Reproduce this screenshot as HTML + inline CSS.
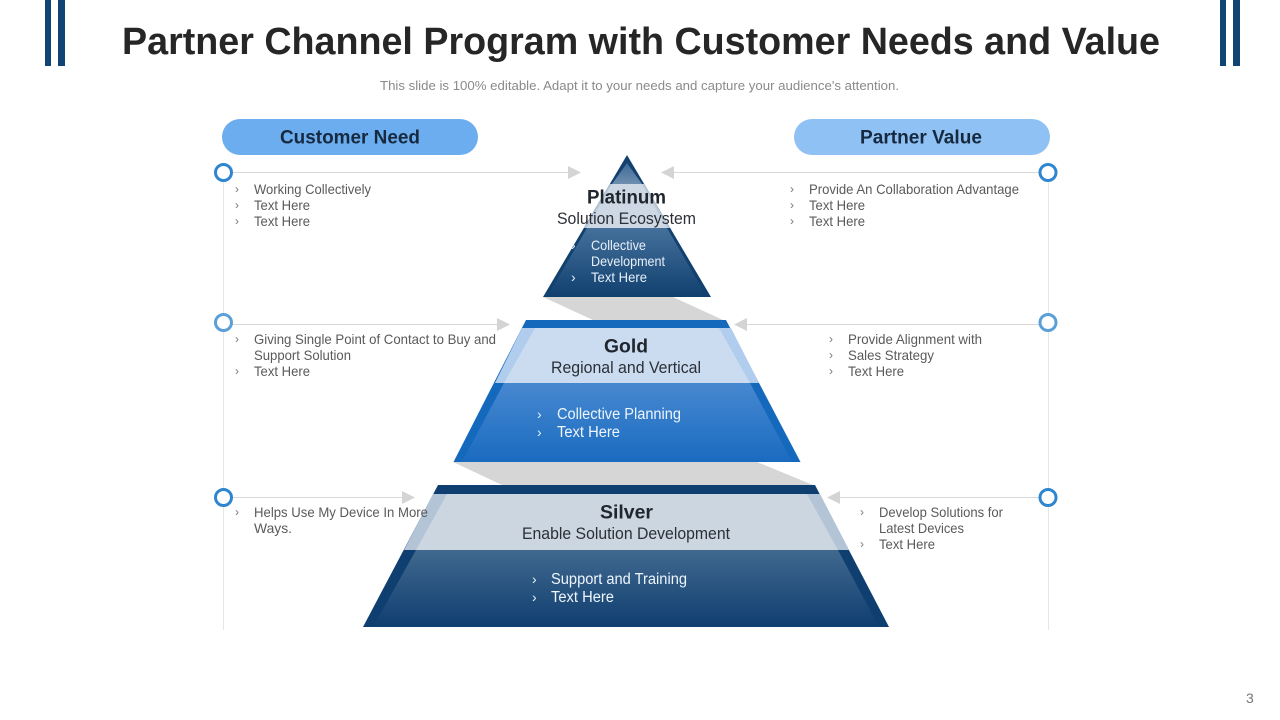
<!DOCTYPE html>
<html lang="en">
<head>
<meta charset="utf-8">
<title>Partner Channel Program with Customer Needs and Value</title>
<style>
html,body{margin:0;padding:0;background:#fff;width:1280px;height:720px;overflow:hidden}
svg{display:block}
text{font-family:"Liberation Sans",sans-serif}
.b{font-size:14px;fill:#5a5a5a}
.c{font-size:12px;fill:#777}
.cw{font-size:14px;fill:#e8f0f8}
.h{font-size:19px;font-weight:bold;fill:#20262e}
.s{font-size:17px;fill:#2b2f36}
.p{font-size:19.5px;font-weight:bold;fill:#16293f}
.l{font-size:15.5px;fill:#eef5fc}
.lc{font-size:14px;fill:#e8f2fb}
</style>
</head>
<body>
<svg width="1280" height="720" viewBox="0 0 1280 720" xmlns="http://www.w3.org/2000/svg">
<defs>
<linearGradient id="gp" x1="0" y1="0" x2="0" y2="1"><stop offset="0" stop-color="#44709b"/><stop offset="1" stop-color="#11406f"/></linearGradient>
<linearGradient id="gt" x1="0" y1="0" x2="0" y2="1"><stop offset="0" stop-color="#3d6a98"/><stop offset="1" stop-color="#6f8eae"/></linearGradient>
<linearGradient id="gg" x1="0" y1="0" x2="0" y2="1"><stop offset="0" stop-color="#4788d0"/><stop offset="1" stop-color="#1a6bc0"/></linearGradient>
<linearGradient id="gs" x1="0" y1="0" x2="0" y2="1"><stop offset="0" stop-color="#41698f"/><stop offset="1" stop-color="#0f3e70"/></linearGradient>
</defs>

<!-- header bars -->
<rect x="45" y="0" width="6" height="66" fill="#0f4474"/>
<rect x="58" y="0" width="7" height="66" fill="#0f4474"/>
<rect x="1220" y="0" width="6" height="66" fill="#0f4474"/>
<rect x="1233" y="0" width="7" height="66" fill="#0f4474"/>

<text x="122" y="54" font-size="38" font-weight="bold" fill="#262626" textLength="1038" lengthAdjust="spacingAndGlyphs">Partner Channel Program with Customer Needs and Value</text>
<text x="380" y="90" font-size="13" fill="#8a8a8a" textLength="519" lengthAdjust="spacingAndGlyphs">This slide is 100% editable. Adapt it to your needs and capture your audience's attention.</text>
<text x="1246" y="703" font-size="14" fill="#777">3</text>

<!-- side verticals -->
<line x1="223.5" y1="172" x2="223.5" y2="630" stroke="#e6e6e6" stroke-width="1"/>
<line x1="1048.5" y1="172" x2="1048.5" y2="630" stroke="#e6e6e6" stroke-width="1"/>

<!-- pills -->
<rect x="222" y="119" width="256" height="36" rx="18" fill="#6cadef"/>
<rect x="794" y="119" width="256" height="36" rx="18" fill="#90c1f4"/>
<text class="p" x="280" y="143.5" textLength="140" lengthAdjust="spacingAndGlyphs">Customer Need</text>
<text class="p" x="860" y="143.5" textLength="122" lengthAdjust="spacingAndGlyphs">Partner Value</text>

<!-- gray connectors between tiers -->
<polygon points="543,297 673,297 723,320 593,320" fill="#d6d6d6"/>
<polygon points="453,462 757,462 813,485 502,485" fill="#d6d6d6"/>

<!-- arrows -->
<g stroke="#d8d8d8" stroke-width="1" fill="none">
<line x1="232" y1="172.5" x2="570" y2="172.5"/>
<line x1="1040" y1="172.5" x2="672" y2="172.5"/>
<line x1="232" y1="324.5" x2="499" y2="324.5"/>
<line x1="1040" y1="324.5" x2="745" y2="324.5"/>
<line x1="232" y1="497.5" x2="404" y2="497.5"/>
<line x1="1040" y1="497.5" x2="838" y2="497.5"/>
</g>
<g fill="#d4d4d4">
<polygon points="568,166 581,172.5 568,179"/>
<polygon points="674,166 661,172.5 674,179"/>
<polygon points="497,318 510,324.5 497,331"/>
<polygon points="747,318 734,324.5 747,331"/>
<polygon points="402,491 415,497.5 402,504"/>
<polygon points="840,491 827,497.5 840,504"/>
</g>

<!-- circles -->
<g fill="#fff" stroke-width="3">
<circle cx="223.5" cy="172.5" r="8" stroke="#2f86d0"/>
<circle cx="223.5" cy="322.5" r="8" stroke="#5b9fd8"/>
<circle cx="223.5" cy="497.5" r="8" stroke="#2f86d0"/>
<circle cx="1048" cy="172.5" r="8" stroke="#2f86d0"/>
<circle cx="1048" cy="322.5" r="8" stroke="#5b9fd8"/>
<circle cx="1048" cy="497.5" r="8" stroke="#2f86d0"/>
</g>

<!-- Platinum -->
<polygon points="627,155 711,297 543,297" fill="#12406f"/>
<polygon points="627,163 642,184 612,184" fill="url(#gt)"/>
<polygon points="610,184 644,184 670,228 584,228" fill="#b9c9d9"/>
<polygon points="612,184 642,184 667,228 587,228" fill="#cdd8e4"/>
<polygon points="587,228 667,228 707,297 547,297" fill="url(#gp)"/>

<!-- Gold -->
<polygon points="526,320 726,320 800.5,462 453.5,462" fill="#1569bd"/>
<polygon points="522,328 731,328 759,383 495,383" fill="#b0cdee"/>
<polygon points="535,328 719,328 750,383 504,383" fill="#cbdcf0"/>
<polygon points="504,383 750,383 792,462 462,462" fill="url(#gg)"/>

<!-- Silver -->
<polygon points="438,485 815,485 889,627 363,627" fill="#0f3e70"/>
<polygon points="433,494 820,494 849,550 404,550" fill="#b3c4d6"/>
<polygon points="447,494 807,494 838,550 416,550" fill="#ccd6e0"/>
<polygon points="416,550 838,550 879,627 373,627" fill="url(#gs)"/>

<!-- tier labels -->
<text class="h" x="587" y="203.5" textLength="79" lengthAdjust="spacingAndGlyphs">Platinum</text>
<text class="s" x="557" y="224" textLength="139" lengthAdjust="spacingAndGlyphs">Solution Ecosystem</text>
<text class="cw" x="571" y="250">›</text>
<text class="cw" x="591" y="250" textLength="55" lengthAdjust="spacingAndGlyphs">Collective</text>
<text class="cw" x="591" y="266" textLength="74" lengthAdjust="spacingAndGlyphs">Development</text>
<text class="cw" x="571" y="282">›</text>
<text class="cw" x="591" y="282" textLength="56" lengthAdjust="spacingAndGlyphs">Text Here</text>

<text class="h" x="604" y="352.5" textLength="44" lengthAdjust="spacingAndGlyphs">Gold</text>
<text class="s" x="551" y="373" textLength="150" lengthAdjust="spacingAndGlyphs">Regional and Vertical</text>
<text class="lc" x="537" y="419">›</text>
<text class="l" x="557" y="419" textLength="124" lengthAdjust="spacingAndGlyphs">Collective Planning</text>
<text class="lc" x="537" y="437">›</text>
<text class="l" x="557" y="437" textLength="63" lengthAdjust="spacingAndGlyphs">Text Here</text>

<text class="h" x="600" y="518.5" textLength="53" lengthAdjust="spacingAndGlyphs">Silver</text>
<text class="s" x="522" y="539" textLength="208" lengthAdjust="spacingAndGlyphs">Enable Solution Development</text>
<text class="lc" x="532" y="584">›</text>
<text class="l" x="551" y="584" textLength="136" lengthAdjust="spacingAndGlyphs">Support and Training</text>
<text class="lc" x="532" y="602">›</text>
<text class="l" x="551" y="602" textLength="63" lengthAdjust="spacingAndGlyphs">Text Here</text>

<!-- left lists -->
<text class="c" x="235" y="193">›</text><text class="b" x="254" y="194" textLength="117" lengthAdjust="spacingAndGlyphs">Working Collectively</text>
<text class="c" x="235" y="209">›</text><text class="b" x="254" y="210" textLength="56" lengthAdjust="spacingAndGlyphs">Text Here</text>
<text class="c" x="235" y="225">›</text><text class="b" x="254" y="226" textLength="56" lengthAdjust="spacingAndGlyphs">Text Here</text>

<text class="c" x="235" y="343">›</text><text class="b" x="254" y="344" textLength="242" lengthAdjust="spacingAndGlyphs">Giving Single Point of Contact to Buy and</text>
<text class="b" x="254" y="360" textLength="97" lengthAdjust="spacingAndGlyphs">Support Solution</text>
<text class="c" x="235" y="375">›</text><text class="b" x="254" y="376" textLength="56" lengthAdjust="spacingAndGlyphs">Text Here</text>

<text class="c" x="235" y="516">›</text><text class="b" x="254" y="517" textLength="174" lengthAdjust="spacingAndGlyphs">Helps Use My Device In More</text>
<text class="b" x="254" y="533" textLength="38" lengthAdjust="spacingAndGlyphs">Ways.</text>

<!-- right lists -->
<text class="c" x="790" y="193">›</text><text class="b" x="809" y="194" textLength="210" lengthAdjust="spacingAndGlyphs">Provide An Collaboration Advantage</text>
<text class="c" x="790" y="209">›</text><text class="b" x="809" y="210" textLength="56" lengthAdjust="spacingAndGlyphs">Text Here</text>
<text class="c" x="790" y="225">›</text><text class="b" x="809" y="226" textLength="56" lengthAdjust="spacingAndGlyphs">Text Here</text>

<text class="c" x="829" y="343">›</text><text class="b" x="848" y="344" textLength="134" lengthAdjust="spacingAndGlyphs">Provide Alignment with</text>
<text class="c" x="829" y="359">›</text><text class="b" x="848" y="360" textLength="86" lengthAdjust="spacingAndGlyphs">Sales Strategy</text>
<text class="c" x="829" y="375">›</text><text class="b" x="848" y="376" textLength="56" lengthAdjust="spacingAndGlyphs">Text Here</text>

<text class="c" x="860" y="516">›</text><text class="b" x="879" y="517" textLength="124" lengthAdjust="spacingAndGlyphs">Develop Solutions for</text>
<text class="b" x="879" y="533" textLength="85" lengthAdjust="spacingAndGlyphs">Latest Devices</text>
<text class="c" x="860" y="548">›</text><text class="b" x="879" y="549" textLength="56" lengthAdjust="spacingAndGlyphs">Text Here</text>
</svg>
</body>
</html>
